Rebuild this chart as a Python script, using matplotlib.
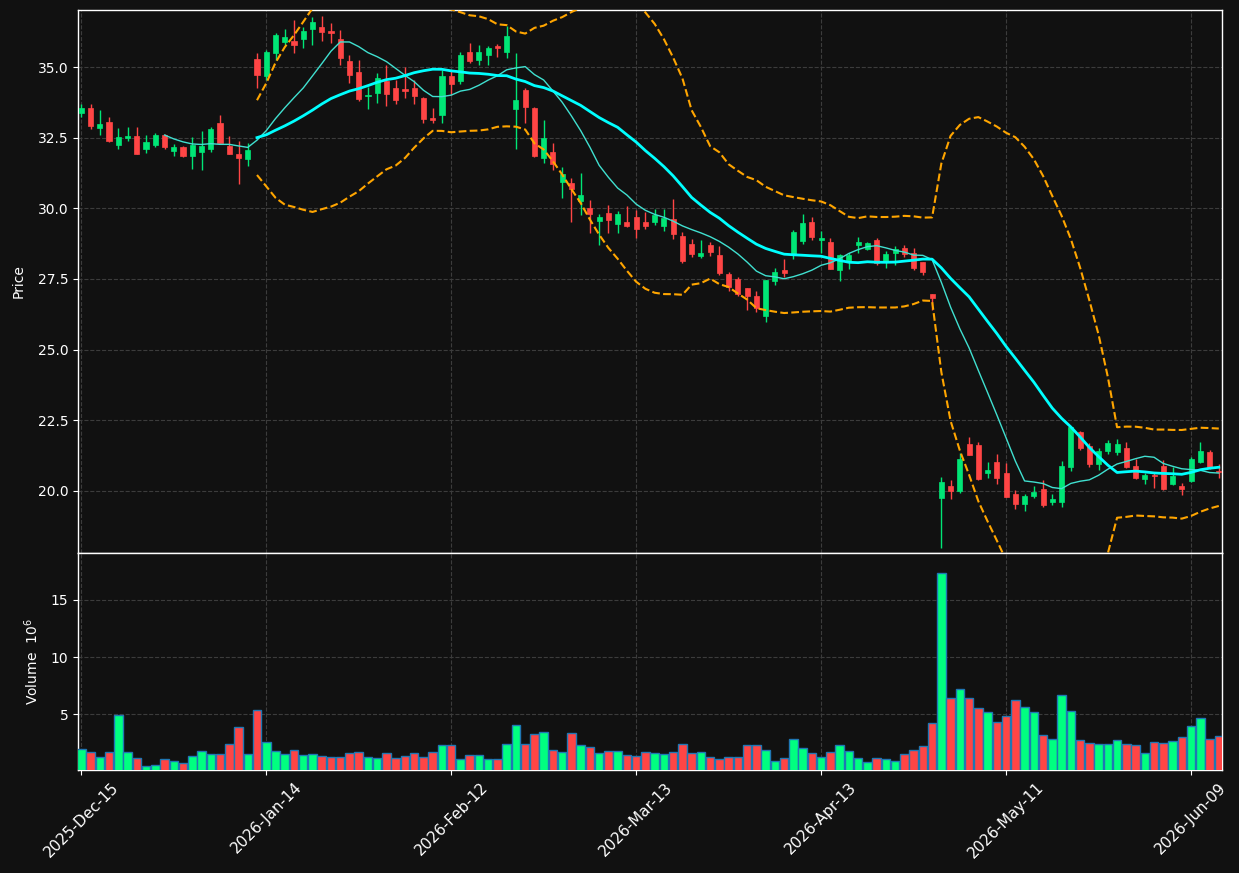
import numpy as np
import pandas as pd
import matplotlib
matplotlib.use("Agg")
import matplotlib.pyplot as plt

# daily OHLC, volume in millions
opens = [33.37, 33.55, 32.84, 33.05, 32.25, 32.50, 32.56, 32.11, 32.25, 32.58,
         32.04, 32.17, 31.86, 32.00, 32.11, 33.02, 32.21, 31.92, 31.76, 35.28,
         34.69, 35.51, 35.88, 35.91, 36.00, 36.36, 36.42, 36.27, 35.98, 35.21,
         34.82, 33.97, 34.09, 34.52, 34.26, 34.22, 34.26, 33.90, 33.19, 33.30,
         34.69, 34.52, 35.53, 35.26, 35.44, 35.74, 35.53, 33.51, 34.19, 33.56,
         31.79, 31.99, 30.93, 30.91, 30.26, 30.01, 29.56, 29.83, 29.46, 29.52,
         29.69, 29.52, 29.52, 29.38, 29.62, 29.02, 28.74, 28.30, 28.70, 28.35,
         27.67, 27.50, 27.18, 26.90, 26.17, 27.41, 27.82, 28.35, 28.84, 29.52,
         28.88, 28.81, 27.80, 28.15, 28.71, 28.57, 28.88, 28.13, 28.40, 28.61,
         28.43, 28.10, 26.96, 19.73, 20.18, 19.98, 21.67, 21.62, 20.62, 21.03,
         20.64, 19.89, 19.54, 19.83, 20.05, 19.60, 19.60, 20.85, 22.09, 21.59,
         20.95, 21.41, 21.38, 21.53, 20.88, 20.42, 20.56, 20.88, 20.24, 20.17,
         20.33, 21.02, 21.37, 20.70]
highs = [33.69, 33.69, 33.48, 33.22, 32.84, 32.87, 32.87, 32.58, 32.67, 32.62,
         32.26, 32.21, 32.51, 32.74, 32.87, 33.29, 32.56, 32.38, 32.32, 35.48,
         35.60, 36.21, 36.33, 36.66, 36.43, 36.78, 36.80, 36.57, 36.31, 35.41,
         35.25, 34.28, 34.78, 35.06, 34.54, 34.99, 34.54, 33.95, 33.54, 34.89,
         34.87, 35.53, 35.84, 35.77, 35.74, 35.81, 36.45, 35.51, 34.25, 33.60,
         33.12, 32.32, 31.45, 31.06, 31.24, 30.28, 29.78, 30.11, 29.89, 30.08,
         29.94, 29.87, 29.97, 29.98, 30.32, 29.17, 28.93, 28.87, 28.80, 28.68,
         27.75, 27.57, 27.18, 27.06, 27.46, 27.88, 28.20, 29.23, 29.79, 29.69,
         29.21, 28.94, 28.39, 28.41, 28.98, 28.81, 28.94, 28.48, 28.67, 28.71,
         28.59, 28.10, 26.97, 20.48, 20.39, 21.33, 21.90, 21.72, 21.03, 21.31,
         20.97, 20.04, 19.89, 20.16, 20.39, 19.87, 21.07, 22.27, 22.13, 21.68,
         21.53, 21.79, 21.84, 21.71, 21.12, 20.64, 20.63, 21.09, 20.85, 20.27,
         21.19, 21.73, 21.45, 20.95]
lows = [33.24, 32.79, 32.58, 32.35, 32.11, 32.37, 31.93, 31.97, 32.17, 32.11,
        31.86, 31.83, 31.40, 31.37, 31.98, 32.31, 31.93, 30.85, 31.51, 34.27,
        34.55, 35.25, 35.79, 35.51, 35.66, 35.77, 35.93, 35.84, 35.07, 34.45,
        33.81, 33.53, 33.71, 33.61, 33.69, 33.89, 33.70, 33.01, 33.01, 33.03,
        34.01, 34.40, 35.13, 35.08, 35.08, 35.37, 35.31, 32.09, 33.03, 31.83,
        31.59, 31.36, 30.38, 29.53, 29.75, 29.14, 28.69, 29.14, 29.14, 29.35,
        28.94, 29.25, 29.40, 29.21, 28.92, 28.05, 28.29, 28.25, 28.30, 27.64,
        27.06, 26.90, 26.39, 26.32, 25.97, 27.28, 27.56, 28.22, 28.74, 28.88,
        28.41, 27.86, 27.43, 27.84, 28.41, 28.51, 27.98, 27.88, 27.98, 28.29,
        27.80, 27.65, 26.41, 17.97, 19.71, 19.92, 21.26, 20.37, 20.44, 20.24,
        19.79, 19.35, 19.30, 19.73, 19.44, 19.51, 19.44, 20.69, 21.43, 20.86,
        20.72, 21.32, 21.27, 20.81, 20.42, 20.23, 20.11, 20.03, 20.20, 19.86,
        20.32, 20.99, 20.78, 20.45]
closes = [33.54, 32.91, 32.98, 32.39, 32.52, 32.56, 31.93, 32.35, 32.58, 32.17,
          32.17, 31.86, 32.24, 32.21, 32.81, 32.31, 31.93, 31.79, 32.06, 34.73,
          35.53, 36.14, 36.05, 35.79, 36.26, 36.59, 36.24, 36.21, 35.33, 34.73,
          33.88, 34.01, 34.61, 34.06, 33.84, 34.15, 33.99, 33.17, 33.13, 34.68,
          34.41, 35.44, 35.21, 35.53, 35.67, 35.68, 36.10, 33.83, 33.60, 31.85,
          32.49, 31.57, 31.21, 30.68, 30.47, 29.81, 29.69, 29.59, 29.80, 29.38,
          29.27, 29.38, 29.77, 29.66, 29.10, 28.13, 28.39, 28.41, 28.45, 27.71,
          27.23, 26.97, 26.90, 26.48, 27.46, 27.73, 27.71, 29.16, 29.47, 28.99,
          28.95, 27.86, 28.34, 28.35, 28.81, 28.78, 28.05, 28.39, 28.57, 28.39,
          27.90, 27.75, 26.84, 20.32, 20.01, 21.12, 21.28, 20.42, 20.75, 20.46,
          19.79, 19.54, 19.80, 19.94, 19.48, 19.71, 20.87, 22.27, 21.53, 20.95,
          21.41, 21.68, 21.64, 20.85, 20.46, 20.56, 20.53, 20.07, 20.53, 20.07,
          21.13, 21.42, 20.85, 20.66]
volumes = [2.00, 1.67, 1.23, 1.67, 4.90, 1.67, 1.14, 0.44, 0.61, 1.05,
           0.94, 0.70, 1.32, 1.75, 1.49, 1.49, 2.37, 3.86, 1.49, 5.35,
           2.54, 1.75, 1.49, 1.84, 1.40, 1.49, 1.32, 1.23, 1.23, 1.58,
           1.67, 1.23, 1.14, 1.58, 1.14, 1.32, 1.58, 1.23, 1.67, 2.28,
           2.28, 1.05, 1.40, 1.40, 1.05, 1.05, 2.37, 4.04, 2.37, 3.25,
           3.42, 1.84, 1.67, 3.33, 2.28, 2.11, 1.58, 1.75, 1.75, 1.40,
           1.32, 1.67, 1.58, 1.49, 1.67, 2.37, 1.58, 1.67, 1.23, 1.05,
           1.23, 1.23, 2.28, 2.28, 1.84, 0.88, 1.14, 2.81, 2.02, 1.58,
           1.23, 1.67, 2.28, 1.75, 1.14, 0.79, 1.14, 1.05, 0.96, 1.49,
           1.84, 2.19, 4.21, 17.37, 6.40, 7.19, 6.40, 5.53, 5.18, 4.30,
           4.82, 6.23, 5.61, 5.18, 3.16, 2.81, 6.67, 5.26, 2.72, 2.46,
           2.37, 2.37, 2.72, 2.37, 2.28, 1.58, 2.54, 2.46, 2.63, 2.98,
           3.95, 4.65, 2.81, 3.07]

holidays = ["2025-12-25", "2026-01-01", "2026-01-19", "2026-02-16",
            "2026-04-03", "2026-05-25"]
dates = pd.bdate_range("2025-12-15", periods=len(closes), freq="C", holidays=holidays)

df = pd.DataFrame({"Open": opens, "High": highs, "Low": lows,
                   "Close": closes, "Volume": volumes}, index=dates)

UP = "#00e676"
DOWN = "#ff4545"
VUP = "#00ff80"
BG = "#111111"

x = np.arange(len(df))
up = df["Close"] >= df["Open"]
colors = np.where(up, UP, DOWN)
vcolors = np.where(up, VUP, DOWN)

ma10 = df["Close"].rolling(10).mean()
ma20 = df["Close"].rolling(20).mean()
std20 = df["Close"].rolling(20).std(ddof=0)
bb_up = ma20 + 2 * std20
bb_lo = ma20 - 2 * std20

fig = plt.figure(figsize=(12.39, 8.73), dpi=100, facecolor=BG)
ax = fig.add_axes([0.063, 0.3666, 0.9233, 0.622], facecolor=BG)
axv = fig.add_axes([0.063, 0.118, 0.9233, 0.2486], facecolor=BG, sharex=ax)

# candles
ax.vlines(x, df["Low"], df["High"], colors=colors, linewidth=1, zorder=3)
body = (df["Close"] - df["Open"]).abs().clip(lower=0.03)
ax.bar(x, body, bottom=np.minimum(df["Open"], df["Close"]), width=0.55,
       color=colors, edgecolor=colors, linewidth=0.5, zorder=4)

# moving averages and bollinger bands
ax.plot(x, ma10, color="#40e0d0", linewidth=1, zorder=5)
ax.plot(x, ma20, color="#00ffff", linewidth=2, zorder=5)
ax.plot(x, bb_up, color="orange", linestyle="--", linewidth=1.5, zorder=5)
ax.plot(x, bb_lo, color="orange", linestyle="--", linewidth=1.5, zorder=5)

axv.bar(x, df["Volume"], width=0.92, color=vcolors, edgecolor="#1f77b4",
        linewidth=1, zorder=3)

ax.set_xlim(-0.35, len(df) - 0.65)
ax.set_ylim(17.8, 37.02)
axv.set_ylim(0.3 * min(volumes), 1.1 * max(volumes))

ax.set_yticks([20.0, 22.5, 25.0, 27.5, 30.0, 32.5, 35.0])
axv.set_yticks([5, 10, 15])

tick_idx = list(range(0, len(df), 20))
axv.set_xticks(tick_idx)
ax.tick_params(axis="x", bottom=False, labelbottom=False)

for a in (ax, axv):
    a.grid(True, color="#3c3c3c", linestyle="--", linewidth=0.8)
    a.set_axisbelow(True)
    a.tick_params(colors="white", labelsize=10)
    for s in a.spines.values():
        s.set_color("white")
        s.set_linewidth(1)

axv.set_xticklabels([dates[i].strftime("%Y-%b-%d") for i in tick_idx],
                    rotation=45, ha="center", fontsize=11)

ax.set_ylabel("Price", color="white", fontsize=10, labelpad=9)
axv.set_ylabel("Volume  $10^{6}$", color="white", fontsize=10, labelpad=7)

fig.savefig("out.png", dpi=100, facecolor=BG)
